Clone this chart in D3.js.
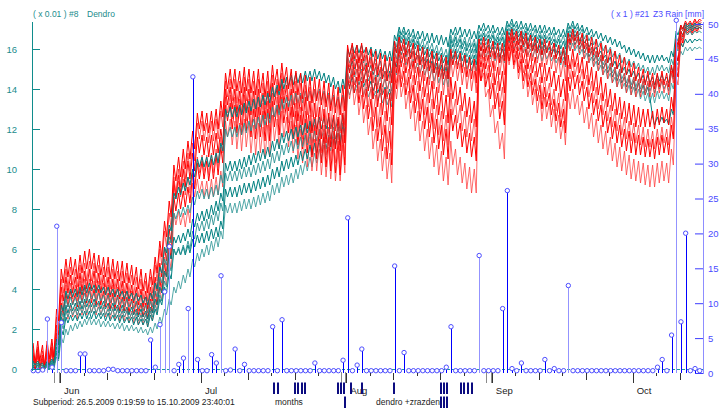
<!DOCTYPE html>
<html>
<head>
<meta charset="utf-8">
<script src="https://cdn.jsdelivr.net/npm/d3@7"></script>
<style>
body { margin: 0; background: #fff; }
svg { display: block; font-family: "Liberation Sans", Arial, sans-serif; }
</style>
</head>
<body>
<svg id="chart" width="719" height="408"></svg>
<script>
// dendrometer readings (x 0.01), two per day: morning max, afternoon min, from 26.5.2009
const red1 = [1.3,0.3, 1.4,0.4, 1.2,0.2, 1.4,0.5, 1.5,0.6, 3.0,2.4, 5.0,4.3, 5.5,4.6, 5.6,4.7, 5.5,4.5,
  5.7,4.8, 5.9,5.0, 6.0,5.0, 5.8,4.8, 5.7,4.7, 5.6,4.6, 5.6,4.5, 5.5,4.5, 5.4,4.4, 5.4,4.3,
  5.3,4.3, 5.2,4.2, 5.1,4.0, 5.0,3.9, 4.8,3.8, 5.0,4.2, 5.6,4.8, 6.4,5.6, 7.4,6.6, 8.4,7.6,
  10.2,9.4, 10.6,9.6, 11.0,10.0, 11.4,10.5, 11.9,11.0, 12.8,12.0, 12.9,11.9, 12.8,11.8, 12.9,11.9, 13.0,12.0,
  13.4,12.6, 14.8,14.0, 15.0,14.0, 15.0,13.9, 14.9,13.8, 15.1,13.9, 15.0,13.8, 14.9,13.7, 15.0,13.8, 14.8,13.6,
  14.9,13.6, 15.2,14.2, 15.0,13.9, 15.3,14.3, 15.1,14.0, 15.0,13.8, 14.9,13.7, 14.8,13.5, 14.7,13.4, 14.6,13.3,
  14.6,13.4, 14.5,13.2, 14.4,13.1, 14.3,12.9, 14.2,12.8, 14.1,12.7, 14.2,12.9, 16.2,15.6, 16.3,15.5, 16.2,15.3,
  16.3,15.4, 16.1,15.1, 16.0,14.9, 15.9,14.7, 15.8,14.5, 15.7,14.4, 15.6,14.3, 16.4,15.8, 16.6,15.9, 16.5,15.7,
  16.4,15.5, 16.3,15.3, 16.2,15.2, 16.1,15.0, 16.0,14.9, 15.9,14.8, 15.8,14.6, 15.7,14.5, 15.6,14.5, 16.0,15.2,
  15.9,15.0, 15.8,14.8, 15.7,14.6, 15.6,14.5, 15.5,14.3, 16.5,15.9, 16.6,15.8, 16.5,15.6, 16.4,15.5, 16.3,15.3,
  16.3,15.4, 16.9,16.4, 17.0,16.4, 16.9,16.2, 16.9,16.2, 16.8,16.0, 16.7,15.9, 16.6,15.8, 16.5,15.7, 16.5,15.8,
  16.4,15.6, 16.3,15.5, 16.2,15.3, 16.1,15.2, 16.8,16.3, 17.0,16.4, 16.9,16.2, 16.8,16.0, 16.7,15.8, 16.6,15.7,
  16.5,15.6, 16.3,15.4, 16.2,15.3, 16.0,15.1, 15.9,15.0, 15.7,14.8, 15.6,14.7, 15.4,14.6, 15.3,14.4, 15.1,14.3,
  15.0,14.2, 14.9,14.1, 14.8,14.0, 14.8,14.1, 14.9,14.2, 14.8,14.1, 15.2,14.6, 16.5,16.2, 17.2,17.0, 17.4,17.2,
  17.4,17.2, 17.5,17.3, 17.5,17.4];
const red2 = [1.0,0.1, 1.1,0.2, 0.9,0.1, 1.2,0.3, 1.3,0.5, 2.6,2.0, 4.5,3.8, 5.0,4.1, 5.1,4.2, 5.0,4.1,
  5.2,4.3, 5.3,4.4, 5.4,4.4, 5.3,4.3, 5.2,4.2, 5.1,4.1, 5.1,4.0, 5.0,4.0, 4.9,3.9, 4.9,3.8,
  4.8,3.8, 4.7,3.7, 4.6,3.6, 4.5,3.5, 4.4,3.4, 4.6,3.8, 5.2,4.4, 6.0,5.2, 6.9,6.1, 7.8,7.0,
  9.6,8.8, 10.0,9.1, 10.4,9.5, 10.8,9.9, 11.3,10.4, 12.3,11.5, 12.4,11.4, 12.3,11.3, 12.4,11.4, 12.5,11.5,
  12.9,12.1, 14.4,13.6, 14.5,13.4, 14.5,13.3, 14.4,13.2, 14.6,13.4, 14.5,13.2, 14.4,13.1, 14.5,13.2, 14.3,13.0,
  14.4,13.0, 14.7,13.6, 14.5,13.3, 14.8,13.7, 14.6,13.4, 14.5,13.2, 14.4,13.0, 14.3,12.9, 14.2,12.7, 14.1,12.6,
  14.0,12.6, 13.9,12.4, 13.8,12.2, 13.7,12.0, 13.6,11.9, 13.5,11.8, 13.6,12.1, 15.8,15.1, 16.0,15.1, 15.9,14.9,
  15.9,14.9, 15.7,14.6, 15.5,14.3, 15.3,14.0, 15.1,13.7, 14.9,13.5, 14.8,13.4, 16.0,15.3, 16.3,15.5, 16.2,15.3,
  16.0,15.0, 15.9,14.8, 15.7,14.6, 15.6,14.4, 15.4,14.2, 15.3,14.0, 15.1,13.8, 15.0,13.7, 14.9,13.6, 15.5,14.6,
  15.4,14.4, 15.3,14.2, 15.1,14.0, 15.0,13.9, 14.9,13.8, 16.2,15.5, 16.3,15.4, 16.1,15.1, 15.9,14.9, 15.8,14.7,
  15.7,14.7, 16.7,16.1, 16.8,16.1, 16.7,15.9, 16.6,15.8, 16.5,15.6, 16.3,15.4, 16.2,15.3, 16.0,15.1, 16.0,15.2,
  15.9,15.0, 15.7,14.8, 15.6,14.6, 15.4,14.4, 16.5,15.9, 16.7,16.0, 16.6,15.8, 16.4,15.5, 16.3,15.3, 16.1,15.1,
  15.9,14.9, 15.7,14.7, 15.5,14.5, 15.3,14.3, 15.1,14.1, 15.0,14.0, 14.8,13.8, 14.7,13.7, 14.6,13.6, 14.5,13.6,
  14.5,13.7, 14.4,13.6, 14.4,13.6, 14.5,13.8, 14.5,13.8, 14.4,13.7, 14.9,14.3, 16.3,16.0, 17.1,16.9, 17.3,17.1,
  17.3,17.1, 17.4,17.2, 17.4,17.3];
const red3 = [0.8,0.0, 1.0,0.1, 0.7,0.0, 1.0,0.2, 1.1,0.3, 2.2,1.7, 4.1,3.4, 4.6,3.8, 4.7,3.8, 4.6,3.7,
  4.8,3.9, 4.9,4.0, 5.0,4.0, 4.9,3.9, 4.8,3.8, 4.7,3.7, 4.6,3.6, 4.5,3.6, 4.5,3.5, 4.4,3.4,
  4.3,3.4, 4.2,3.3, 4.1,3.2, 4.0,3.1, 3.9,3.0, 4.1,3.4, 4.6,3.9, 5.3,4.6, 6.1,5.4, 7.0,6.3,
  9.4,8.6, 9.7,8.8, 10.0,9.1, 10.4,9.5, 10.8,9.9, 11.6,10.8, 11.7,10.7, 11.6,10.6, 11.7,10.7, 11.8,10.8,
  12.0,11.2, 14.0,13.2, 14.1,13.0, 14.0,12.8, 13.9,12.7, 14.1,12.9, 14.0,12.7, 13.9,12.6, 14.0,12.7, 13.8,12.5,
  13.9,12.5, 14.3,13.2, 14.1,12.8, 14.4,13.3, 14.2,12.9, 14.0,12.6, 13.9,12.4, 13.7,12.2, 13.6,12.0, 13.4,11.8,
  13.3,11.7, 13.1,11.5, 13.0,11.3, 12.8,11.1, 12.7,11.0, 12.6,10.9, 12.8,11.3, 15.5,14.8, 15.7,14.7, 15.5,14.4,
  15.5,14.3, 15.2,13.9, 14.9,13.5, 14.6,13.1, 14.3,12.7, 14.0,12.4, 13.8,12.2, 15.6,14.8, 16.0,15.1, 15.8,14.8,
  15.6,14.5, 15.4,14.2, 15.1,13.9, 14.9,13.6, 14.6,13.3, 14.4,13.0, 14.1,12.7, 13.9,12.5, 13.7,12.3, 14.6,13.5,
  14.4,13.2, 14.1,12.9, 13.8,12.6, 13.6,12.3, 13.4,12.1, 15.9,15.1, 16.0,15.0, 15.7,14.6, 15.4,14.2, 15.1,13.9,
  14.9,13.8, 16.5,15.9, 16.6,15.8, 16.4,15.5, 16.2,15.3, 16.0,15.0, 15.8,14.8, 15.6,14.6, 15.3,14.3, 15.3,14.4,
  15.1,14.1, 14.9,13.9, 14.7,13.6, 14.5,13.4, 15.7,15.0, 16.0,15.1, 15.8,14.8, 15.6,14.5, 15.4,14.2, 15.1,13.9,
  14.9,13.7, 14.6,13.4, 14.3,13.1, 14.0,12.9, 13.8,12.7, 13.6,12.5, 13.4,12.3, 13.3,12.2, 13.2,12.1, 13.1,12.1,
  13.0,12.1, 13.0,12.1, 12.9,12.0, 13.0,12.2, 13.1,12.3, 13.0,12.2, 13.6,12.9, 15.8,15.4, 16.9,16.6, 17.2,17.0,
  17.2,17.0, 17.3,17.1, 17.3,17.2];
const red4 = [0.7,0.0, 0.8,0.0, 0.6,0.0, 0.9,0.1, 1.0,0.3, 2.0,1.5, 3.7,3.0, 4.2,3.4, 4.3,3.5, 4.2,3.4,
  4.4,3.6, 4.5,3.6, 4.5,3.6, 4.4,3.5, 4.4,3.5, 4.3,3.4, 4.2,3.3, 4.2,3.3, 4.1,3.2, 4.0,3.2,
  3.9,3.1, 3.9,3.0, 3.8,2.9, 3.7,2.9, 3.6,2.8, 3.8,3.1, 4.2,3.5, 4.8,4.1, 5.6,4.9, 6.4,5.8,
  9.2,8.5, 9.4,8.6, 9.5,8.7, 9.6,8.8, 10.0,9.2, 10.6,9.8, 10.7,9.8, 10.7,9.7, 10.8,9.8, 11.0,10.0,
  11.6,10.8, 13.6,12.8, 13.7,12.5, 13.6,12.3, 13.5,12.2, 13.7,12.4, 13.5,12.1, 13.4,12.0, 13.5,12.1, 13.3,11.9,
  13.4,11.9, 13.8,12.6, 13.6,12.2, 14.0,12.8, 13.7,12.3, 13.5,12.0, 13.3,11.8, 13.1,11.5, 12.9,11.3, 12.7,11.1,
  12.6,11.0, 12.4,10.8, 12.2,10.6, 12.0,10.4, 11.9,10.3, 11.8,10.2, 12.0,10.6, 15.0,14.3, 15.2,14.2, 15.0,13.8,
  14.9,13.6, 14.5,13.1, 14.1,12.6, 13.7,12.1, 13.3,11.7, 12.9,11.3, 12.6,11.0, 15.1,14.3, 15.5,14.5, 15.3,14.2,
  15.0,13.8, 14.7,13.4, 14.4,13.0, 14.1,12.7, 13.8,12.3, 13.5,12.0, 13.2,11.7, 12.9,11.4, 12.7,11.2, 13.8,12.7,
  13.5,12.3, 13.2,11.9, 12.9,11.6, 12.7,11.4, 12.5,11.2, 15.5,14.7, 15.6,14.5, 15.2,14.0, 14.8,13.5, 14.4,13.1,
  14.1,12.9, 16.3,15.6, 16.4,15.5, 16.1,15.1, 15.8,14.8, 15.5,14.5, 15.2,14.2, 14.9,13.9, 14.6,13.5, 14.6,13.6,
  14.3,13.2, 14.0,12.9, 13.8,12.6, 13.5,12.3, 15.2,14.5, 15.5,14.6, 15.3,14.3, 15.0,14.0, 14.7,13.6, 14.4,13.3,
  14.1,13.0, 13.8,12.7, 13.5,12.4, 13.2,12.1, 13.0,11.9, 12.8,11.7, 12.6,11.5, 12.4,11.4, 12.3,11.3, 12.2,11.2,
  12.1,11.1, 12.0,11.1, 11.9,11.0, 12.0,11.2, 12.1,11.3, 12.0,11.2, 12.6,11.9, 15.3,14.9, 16.7,16.4, 17.1,16.9,
  17.1,16.9, 17.2,17.0, 17.2,17.1];
const red5 = [0.6,0.0, 0.7,0.0, 0.5,0.0, 0.8,0.1, 0.9,0.2, 1.8,1.3, 3.3,2.7, 3.8,3.1, 3.9,3.2, 3.8,3.1,
  4.0,3.3, 4.1,3.3, 4.1,3.3, 4.0,3.2, 4.0,3.2, 3.9,3.1, 3.8,3.0, 3.8,3.0, 3.7,2.9, 3.6,2.9,
  3.6,2.8, 3.5,2.7, 3.4,2.7, 3.3,2.6, 3.3,2.5, 3.5,2.8, 3.9,3.2, 4.5,3.8, 5.3,4.6, 6.2,5.5,
  8.6,7.9, 8.8,8.0, 8.9,8.1, 9.1,8.3, 9.8,9.0, 10.3,9.5, 10.4,9.5, 10.4,9.4, 10.5,9.5, 10.7,9.7,
  11.1,10.3, 13.2,12.4, 13.3,12.0, 13.2,11.8, 13.1,11.7, 13.3,11.9, 13.1,11.6, 13.0,11.5, 13.1,11.6, 12.9,11.4,
  13.0,11.4, 13.4,12.1, 13.2,11.7, 13.6,12.3, 13.3,11.8, 13.1,11.5, 12.9,11.2, 12.7,11.0, 12.5,10.8, 12.3,10.6,
  12.2,10.5, 12.0,10.3, 11.8,10.1, 11.6,9.9, 11.5,9.8, 11.4,9.7, 11.7,10.2, 14.7,14.0, 14.9,13.8, 14.6,13.3,
  14.4,13.0, 14.0,12.5, 13.5,11.9, 13.1,11.4, 12.6,10.9, 12.2,10.5, 11.9,10.2, 14.8,14.0, 15.2,14.1, 14.9,13.7,
  14.6,13.3, 14.2,12.8, 13.8,12.4, 13.5,12.0, 13.1,11.6, 12.8,11.3, 12.5,11.0, 12.2,10.7, 12.0,10.5, 13.0,11.9,
  12.7,11.5, 12.3,11.1, 12.0,10.8, 11.8,10.6, 11.6,10.4, 15.2,14.4, 15.3,14.1, 14.8,13.5, 14.3,13.0, 13.8,12.5,
  13.4,12.2, 16.1,15.4, 16.2,15.2, 15.9,14.8, 15.5,14.4, 15.2,14.1, 14.8,13.7, 14.5,13.4, 14.2,13.0, 14.1,13.1,
  13.8,12.7, 13.5,12.4, 13.3,12.1, 13.0,11.8, 14.6,13.9, 14.9,14.0, 14.7,13.7, 14.4,13.4, 14.1,13.0, 13.8,12.7,
  13.5,12.4, 13.2,12.1, 12.9,11.8, 12.6,11.5, 12.4,11.3, 12.2,11.1, 12.0,10.9, 11.9,10.8, 11.8,10.7, 11.7,10.7,
  11.6,10.6, 11.5,10.6, 11.5,10.5, 11.6,10.7, 11.7,10.8, 11.6,10.7, 12.2,11.5, 15.0,14.6, 16.6,16.3, 17.0,16.8,
  17.0,16.8, 17.1,16.9, 17.1,17.0];
const red6 = [0.5,0.0, 0.6,0.0, 0.4,0.0, 0.7,0.1, 0.8,0.2, 1.6,1.2, 2.8,2.3, 3.1,2.5, 3.2,2.6, 3.1,2.5,
  3.3,2.7, 3.4,2.7, 3.4,2.8, 3.3,2.7, 3.3,2.7, 3.2,2.6, 3.2,2.5, 3.1,2.5, 3.1,2.4, 3.0,2.4,
  3.0,2.3, 2.9,2.3, 2.9,2.2, 2.8,2.2, 2.8,2.1, 3.0,2.4, 3.4,2.8, 4.0,3.4, 4.8,4.2, 5.6,5.0,
  7.8,7.2, 7.9,7.2, 7.8,7.1, 8.0,7.3, 9.3,8.6, 9.5,8.8, 9.4,8.6, 9.4,8.5, 9.5,8.6, 9.6,8.7,
  9.9,9.1, 12.4,11.6, 12.5,11.2, 12.4,11.0, 12.3,10.9, 12.5,11.1, 12.3,10.8, 12.2,10.7, 12.3,10.8, 12.1,10.6,
  12.2,10.6, 12.7,11.4, 12.5,11.0, 12.9,11.6, 12.6,11.1, 12.4,10.8, 12.2,10.5, 12.0,10.3, 11.8,10.1, 11.6,9.9,
  11.5,9.9, 11.3,9.7, 11.2,9.6, 11.1,9.5, 11.0,9.4, 10.9,9.4, 11.2,9.8, 14.2,13.5, 14.4,13.2, 14.0,12.7,
  13.7,12.3, 13.2,11.7, 12.6,11.0, 12.0,10.4, 11.5,9.9, 11.1,9.5, 10.8,9.3, 14.3,13.5, 14.7,13.6, 14.3,13.0,
  13.9,12.5, 13.4,11.9, 12.9,11.4, 12.4,10.9, 12.0,10.5, 11.6,10.1, 11.2,9.7, 10.9,9.4, 10.6,9.2, 11.4,10.2,
  11.0,9.7, 10.6,9.3, 10.3,9.0, 10.1,8.8, 10.0,8.8, 15.0,14.4, 14.8,13.6, 14.0,12.6, 13.2,11.8, 12.4,11.0,
  11.8,10.5, 15.9,15.2, 16.0,15.0, 15.6,14.5, 15.2,14.0, 14.8,13.6, 14.4,13.2, 14.0,12.8, 13.7,12.4, 13.6,12.5,
  13.3,12.1, 13.0,11.8, 12.7,11.5, 12.4,11.2, 13.8,13.0, 14.0,13.0, 13.7,12.7, 13.4,12.3, 13.1,12.0, 12.8,11.6,
  12.5,11.3, 12.2,11.0, 11.9,10.7, 11.6,10.4, 11.3,10.1, 11.1,9.9, 10.9,9.7, 10.7,9.5, 10.5,9.4, 10.4,9.3,
  10.3,9.2, 10.2,9.1, 10.2,9.1, 10.3,9.3, 10.4,9.4, 10.3,9.3, 11.0,10.2, 14.6,14.2, 16.4,16.1, 16.9,16.7,
  16.9,16.7, 17.0,16.8, 17.1,17.0];
const teal1 = [0.4,0.2, 0.4,0.2, 0.3,0.1, 0.4,0.2, 0.5,0.3, 1.5,1.2, 3.2,2.9, 3.9,3.5, 4.0,3.6, 4.0,3.6,
  4.1,3.7, 4.2,3.8, 4.3,3.9, 4.2,3.8, 4.2,3.8, 4.1,3.7, 4.1,3.7, 4.0,3.6, 4.0,3.6, 3.9,3.5,
  3.9,3.5, 3.8,3.4, 3.8,3.4, 3.7,3.3, 3.6,3.2, 3.8,3.5, 4.3,4.0, 5.1,4.8, 6.1,5.8, 7.2,6.9,
  8.8,8.5, 9.1,8.7, 9.3,8.9, 9.6,9.2, 10.0,9.6, 10.5,10.1, 10.6,10.1, 10.6,10.1, 10.7,10.2, 10.8,10.3,
  11.3,10.9, 13.0,12.6, 13.1,12.6, 13.1,12.6, 13.2,12.7, 13.3,12.8, 13.4,12.9, 13.5,13.0, 13.6,13.1, 13.7,13.2,
  13.8,13.3, 14.1,13.6, 14.2,13.7, 14.5,14.0, 14.6,14.1, 14.7,14.2, 14.8,14.3, 14.8,14.3, 14.9,14.4, 14.9,14.4,
  15.0,14.5, 14.9,14.4, 14.8,14.3, 14.7,14.1, 14.6,14.0, 14.4,13.8, 14.5,14.0, 16.0,15.7, 16.2,15.8, 16.2,15.8,
  16.2,15.8, 16.1,15.7, 16.1,15.6, 16.0,15.5, 16.0,15.5, 15.9,15.4, 15.9,15.4, 16.7,16.4, 17.1,16.7, 17.1,16.7,
  17.0,16.6, 17.0,16.5, 16.9,16.5, 16.9,16.4, 16.8,16.3, 16.8,16.3, 16.7,16.2, 16.7,16.2, 16.6,16.1, 17.0,16.7,
  17.1,16.7, 17.1,16.6, 17.0,16.6, 17.0,16.5, 16.9,16.5, 17.2,16.9, 17.3,16.9, 17.2,16.8, 17.2,16.8, 17.1,16.7,
  17.1,16.7, 17.4,17.1, 17.5,17.1, 17.4,17.0, 17.4,17.0, 17.3,16.9, 17.3,16.9, 17.2,16.8, 17.2,16.8, 17.2,16.8,
  17.1,16.7, 17.1,16.7, 17.0,16.6, 17.0,16.6, 17.3,17.0, 17.4,17.0, 17.3,16.9, 17.2,16.8, 17.1,16.7, 17.0,16.6,
  16.9,16.5, 16.8,16.4, 16.7,16.3, 16.6,16.2, 16.5,16.1, 16.4,16.0, 16.2,15.8, 16.1,15.7, 16.0,15.6, 15.9,15.5,
  15.8,15.4, 15.7,15.3, 15.7,15.3, 15.7,15.4, 15.7,15.4, 15.6,15.3, 15.9,15.6, 16.9,16.7, 17.2,17.0, 17.3,17.1,
  17.3,17.1, 17.3,17.2, 17.3,17.2];
const teal2 = [0.3,0.1, 0.3,0.1, 0.2,0.0, 0.3,0.1, 0.4,0.2, 1.3,1.0, 2.9,2.6, 3.5,3.1, 3.6,3.2, 3.6,3.2,
  3.7,3.3, 3.8,3.4, 3.9,3.5, 3.8,3.4, 3.8,3.4, 3.7,3.3, 3.7,3.3, 3.6,3.2, 3.6,3.2, 3.5,3.1,
  3.5,3.1, 3.4,3.0, 3.4,3.0, 3.3,2.9, 3.2,2.8, 3.4,3.1, 3.9,3.6, 4.6,4.3, 5.5,5.2, 6.6,6.3,
  7.8,7.5, 8.0,7.6, 8.1,7.7, 8.2,7.8, 8.6,8.2, 8.9,8.5, 9.0,8.5, 9.0,8.5, 9.1,8.6, 9.2,8.7,
  9.7,9.3, 12.0,11.6, 12.1,11.6, 12.1,11.6, 12.2,11.7, 12.3,11.8, 12.4,11.9, 12.5,12.0, 12.6,12.1, 12.7,12.2,
  12.8,12.3, 13.1,12.6, 13.2,12.7, 13.5,13.0, 13.6,13.1, 13.7,13.2, 13.8,13.3, 13.8,13.3, 13.9,13.4, 13.9,13.4,
  14.0,13.5, 14.0,13.4, 13.9,13.3, 13.8,13.2, 13.7,13.1, 13.6,13.0, 13.7,13.2, 15.6,15.3, 15.8,15.4, 15.8,15.4,
  15.8,15.3, 15.7,15.2, 15.6,15.1, 15.5,15.0, 15.4,14.9, 15.3,14.8, 15.3,14.8, 16.4,16.1, 16.9,16.5, 16.9,16.4,
  16.8,16.3, 16.7,16.2, 16.6,16.1, 16.5,16.0, 16.4,15.9, 16.3,15.8, 16.2,15.7, 16.1,15.6, 16.0,15.5, 16.7,16.3,
  16.8,16.3, 16.7,16.2, 16.6,16.1, 16.6,16.1, 16.5,16.0, 16.9,16.6, 17.0,16.6, 16.9,16.5, 16.9,16.4, 16.8,16.4,
  16.8,16.3, 17.2,16.9, 17.3,16.9, 17.2,16.8, 17.1,16.7, 17.1,16.7, 17.0,16.6, 17.0,16.5, 16.9,16.5, 16.9,16.5,
  16.8,16.4, 16.8,16.3, 16.7,16.3, 16.7,16.2, 17.1,16.8, 17.2,16.8, 17.1,16.7, 17.0,16.5, 16.8,16.4, 16.7,16.2,
  16.5,16.1, 16.4,15.9, 16.2,15.8, 16.1,15.6, 15.9,15.5, 15.8,15.3, 15.6,15.2, 15.5,15.1, 15.4,15.0, 15.3,14.9,
  15.2,14.8, 15.1,14.7, 15.1,14.7, 15.2,14.9, 15.2,14.9, 15.1,14.8, 15.5,15.2, 16.6,16.4, 17.1,16.9, 17.2,17.0,
  17.2,17.0, 17.2,17.1, 17.2,17.1];
const teal3 = [0.2,0.0, 0.3,0.1, 0.2,0.0, 0.3,0.1, 0.4,0.2, 1.1,0.8, 2.6,2.3, 3.2,2.8, 3.3,2.9, 3.3,2.9,
  3.4,3.0, 3.5,3.1, 3.5,3.1, 3.5,3.1, 3.4,3.0, 3.4,3.0, 3.3,2.9, 3.3,2.9, 3.2,2.8, 3.2,2.8,
  3.1,2.7, 3.1,2.7, 3.0,2.6, 3.0,2.6, 2.9,2.5, 3.1,2.8, 3.5,3.2, 4.1,3.8, 4.9,4.6, 5.8,5.5,
  6.6,6.3, 6.7,6.3, 6.8,6.4, 7.0,6.6, 7.5,7.1, 7.8,7.4, 7.9,7.4, 8.0,7.5, 8.2,7.7, 8.4,7.9,
  8.8,8.4, 10.3,9.9, 10.4,9.9, 10.4,9.9, 10.5,10.0, 10.6,10.1, 10.7,10.2, 10.8,10.3, 10.9,10.4, 11.0,10.5,
  11.1,10.6, 11.4,10.9, 11.5,11.0, 11.8,11.3, 11.9,11.4, 12.0,11.5, 12.1,11.6, 12.2,11.7, 12.3,11.8, 12.4,11.9,
  12.5,12.0, 12.6,12.0, 12.6,12.0, 12.6,12.0, 12.6,12.0, 12.5,11.9, 12.7,12.2, 15.2,14.9, 15.4,15.0, 15.4,15.0,
  15.4,14.9, 15.3,14.8, 15.2,14.7, 15.1,14.6, 15.0,14.5, 14.9,14.4, 14.9,14.4, 16.1,15.8, 16.7,16.3, 16.7,16.2,
  16.6,16.1, 16.5,16.0, 16.4,15.9, 16.2,15.7, 16.1,15.6, 16.0,15.5, 15.9,15.4, 15.8,15.3, 15.7,15.2, 16.5,16.1,
  16.6,16.1, 16.5,16.0, 16.4,15.9, 16.3,15.8, 16.3,15.8, 16.7,16.4, 16.8,16.4, 16.7,16.3, 16.7,16.2, 16.6,16.2,
  16.6,16.1, 17.0,16.7, 17.1,16.7, 17.0,16.6, 16.9,16.5, 16.9,16.4, 16.8,16.4, 16.7,16.3, 16.7,16.2, 16.7,16.3,
  16.6,16.2, 16.5,16.1, 16.5,16.0, 16.4,16.0, 16.9,16.6, 17.0,16.6, 16.9,16.4, 16.7,16.3, 16.5,16.1, 16.3,15.9,
  16.1,15.7, 15.9,15.5, 15.7,15.3, 15.6,15.1, 15.4,15.0, 15.3,14.8, 15.1,14.7, 15.0,14.6, 14.9,14.5, 14.8,14.4,
  14.7,14.3, 14.7,14.3, 14.6,14.2, 14.7,14.4, 14.7,14.4, 14.6,14.3, 15.1,14.8, 16.3,16.1, 16.9,16.7, 17.1,16.9,
  17.1,16.9, 17.1,17.0, 17.1,17.0];
const teal4 = [0.2,0.0, 0.2,0.0, 0.1,0.0, 0.2,0.0, 0.3,0.1, 0.9,0.6, 2.3,2.0, 2.9,2.6, 3.0,2.7, 3.0,2.7,
  3.1,2.8, 3.2,2.8, 3.2,2.8, 3.2,2.8, 3.1,2.7, 3.1,2.7, 3.0,2.7, 3.0,2.6, 3.0,2.6, 2.9,2.6,
  2.9,2.5, 2.8,2.5, 2.8,2.4, 2.7,2.4, 2.7,2.3, 2.9,2.6, 3.2,2.9, 3.7,3.4, 4.4,4.1, 5.2,4.9,
  6.0,5.7, 6.1,5.7, 6.2,5.8, 6.4,6.0, 6.9,6.5, 7.3,6.9, 7.4,6.9, 7.5,7.0, 7.7,7.2, 7.9,7.4,
  8.3,7.9, 9.8,9.4, 9.9,9.4, 9.9,9.4, 10.0,9.5, 10.1,9.6, 10.1,9.6, 10.2,9.7, 10.3,9.8, 10.4,9.9,
  10.5,10.0, 10.8,10.3, 10.9,10.4, 11.2,10.7, 11.3,10.8, 11.4,10.9, 11.5,11.0, 11.6,11.1, 11.7,11.2, 11.8,11.3,
  11.9,11.4, 12.0,11.5, 12.0,11.5, 12.1,11.5, 12.1,11.5, 12.1,11.5, 12.3,11.8, 14.8,14.5, 15.0,14.6, 15.0,14.6,
  15.0,14.5, 14.9,14.4, 14.8,14.3, 14.7,14.2, 14.6,14.1, 14.5,14.0, 14.4,13.9, 15.8,15.5, 16.4,16.0, 16.4,15.9,
  16.3,15.8, 16.2,15.7, 16.0,15.5, 15.9,15.4, 15.8,15.3, 15.7,15.1, 15.6,15.0, 15.5,14.9, 15.4,14.8, 16.2,15.8,
  16.3,15.8, 16.2,15.7, 16.1,15.6, 16.0,15.5, 16.0,15.5, 16.5,16.2, 16.6,16.2, 16.5,16.0, 16.4,16.0, 16.4,15.9,
  16.3,15.9, 16.8,16.5, 16.9,16.5, 16.8,16.4, 16.7,16.3, 16.6,16.2, 16.6,16.1, 16.5,16.0, 16.4,16.0, 16.4,16.0,
  16.3,15.9, 16.3,15.8, 16.2,15.7, 16.1,15.7, 16.7,16.4, 16.8,16.4, 16.7,16.2, 16.5,16.0, 16.3,15.8, 16.1,15.6,
  15.9,15.4, 15.7,15.2, 15.5,15.0, 15.3,14.8, 15.1,14.6, 15.0,14.5, 14.8,14.3, 14.7,14.2, 14.6,14.1, 14.5,14.0,
  14.4,13.9, 14.3,13.9, 14.3,13.8, 14.4,14.0, 14.4,14.0, 14.3,13.9, 14.8,14.5, 16.1,15.9, 16.7,16.5, 16.9,16.7,
  16.9,16.7, 16.9,16.8, 16.9,16.8];
const teal5 = [0.1,0.0, 0.2,0.0, 0.1,0.0, 0.2,0.0, 0.3,0.1, 0.8,0.5, 2.0,1.7, 2.6,2.3, 2.7,2.4, 2.7,2.4,
  2.8,2.5, 2.9,2.5, 2.9,2.5, 2.9,2.5, 2.8,2.5, 2.8,2.4, 2.8,2.4, 2.7,2.4, 2.7,2.3, 2.7,2.3,
  2.6,2.3, 2.6,2.2, 2.6,2.2, 2.5,2.2, 2.5,2.1, 2.7,2.4, 3.0,2.7, 3.5,3.2, 4.1,3.8, 4.8,4.5,
  6.0,5.7, 6.0,5.7, 6.1,5.7, 6.2,5.8, 6.5,6.1, 6.7,6.3, 6.8,6.3, 6.9,6.4, 7.0,6.5, 7.1,6.6,
  7.4,7.0, 9.0,8.6, 9.1,8.6, 9.1,8.6, 9.2,8.7, 9.3,8.8, 9.3,8.8, 9.4,8.9, 9.5,9.0, 9.6,9.1,
  9.7,9.2, 10.0,9.5, 10.1,9.6, 10.4,9.9, 10.5,10.0, 10.6,10.1, 10.7,10.2, 10.9,10.4, 11.0,10.5, 11.2,10.7,
  11.3,10.8, 11.5,10.9, 11.6,11.0, 11.7,11.1, 11.8,11.2, 11.8,11.2, 12.1,11.6, 14.4,14.1, 14.6,14.2, 14.6,14.2,
  14.6,14.1, 14.5,14.0, 14.4,13.9, 14.3,13.8, 14.2,13.7, 14.1,13.6, 14.0,13.5, 15.4,15.1, 16.1,15.7, 16.1,15.6,
  16.0,15.5, 15.9,15.4, 15.7,15.2, 15.6,15.1, 15.5,14.9, 15.4,14.8, 15.3,14.7, 15.2,14.6, 15.1,14.5, 15.9,15.5,
  16.0,15.5, 15.9,15.4, 15.8,15.3, 15.7,15.2, 15.7,15.2, 16.2,15.9, 16.3,15.9, 16.2,15.8, 16.1,15.7, 16.1,15.6,
  16.0,15.6, 16.6,16.3, 16.7,16.3, 16.6,16.2, 16.5,16.1, 16.4,16.0, 16.3,15.9, 16.3,15.8, 16.2,15.7, 16.2,15.8,
  16.1,15.7, 16.0,15.6, 15.9,15.5, 15.9,15.4, 16.5,16.2, 16.6,16.2, 16.5,16.0, 16.3,15.8, 16.1,15.6, 15.9,15.4,
  15.7,15.2, 15.5,15.0, 15.3,14.8, 15.1,14.6, 14.9,14.4, 14.8,14.3, 14.6,14.1, 14.5,14.0, 14.4,13.9, 14.3,13.8,
  14.2,13.7, 14.1,13.6, 12.6,12.2, 12.6,12.3, 12.6,12.3, 12.5,12.2, 13.0,12.7, 15.6,15.4, 16.3,16.1, 16.5,16.3,
  16.5,16.3, 16.5,16.4, 16.5,16.4];
const teal6 = [0.1,0.0, 0.1,0.0, 0.1,0.0, 0.1,0.0, 0.2,0.0, 0.6,0.4, 1.6,1.3, 2.0,1.7, 2.2,1.9, 2.3,2.0,
  2.4,2.1, 2.5,2.2, 2.6,2.2, 2.5,2.2, 2.5,2.1, 2.4,2.1, 2.4,2.1, 2.3,2.0, 2.3,2.0, 2.3,1.9,
  2.2,1.9, 2.2,1.9, 2.1,1.8, 2.1,1.8, 2.0,1.7, 2.1,1.8, 2.3,2.0, 2.6,2.3, 3.0,2.7, 3.5,3.2,
  4.1,3.8, 4.4,4.0, 4.7,4.3, 5.0,4.6, 5.5,5.1, 5.8,5.4, 6.0,5.6, 6.2,5.7, 6.4,5.9, 6.6,6.1,
  6.9,6.5, 8.2,7.8, 8.3,7.8, 8.3,7.8, 8.4,7.9, 8.5,8.0, 8.5,8.0, 8.6,8.1, 8.7,8.2, 8.8,8.3,
  8.9,8.4, 9.2,8.7, 9.3,8.8, 9.6,9.1, 9.7,9.2, 9.8,9.3, 10.0,9.5, 10.2,9.7, 10.4,9.9, 10.6,10.1,
  10.8,10.3, 11.0,10.5, 11.2,10.7, 11.4,10.9, 11.6,11.1, 11.8,11.3, 12.2,11.8, 14.0,13.7, 14.2,13.8, 14.2,13.8,
  14.2,13.7, 14.1,13.6, 14.0,13.5, 13.9,13.4, 13.8,13.3, 13.7,13.2, 13.6,13.1, 15.0,14.7, 15.7,15.3, 15.7,15.2,
  15.6,15.1, 15.5,15.0, 15.3,14.8, 15.2,14.7, 15.1,14.5, 15.0,14.4, 14.9,14.3, 14.8,14.2, 14.7,14.1, 15.6,15.2,
  15.7,15.2, 15.6,15.1, 15.5,15.0, 15.4,14.9, 15.4,14.9, 15.9,15.6, 16.0,15.6, 15.9,15.5, 15.8,15.4, 15.8,15.3,
  15.7,15.3, 16.3,16.0, 16.4,16.0, 16.3,15.9, 16.2,15.8, 16.1,15.7, 16.0,15.6, 16.0,15.5, 15.9,15.4, 15.9,15.5,
  15.8,15.4, 15.7,15.3, 15.6,15.2, 15.6,15.1, 16.2,15.9, 16.3,15.9, 16.2,15.7, 16.0,15.5, 15.8,15.3, 15.6,15.1,
  15.4,14.9, 15.2,14.7, 15.0,14.5, 14.8,14.3, 14.6,14.1, 14.5,14.0, 14.3,13.8, 14.2,13.7, 14.1,13.6, 14.0,13.5,
  13.9,13.4, 13.8,13.3, 13.8,13.3, 13.9,13.5, 13.9,13.5, 13.8,13.4, 14.3,14.0, 15.4,15.2, 15.9,15.7, 16.1,15.9,
  16.1,15.9, 16.1,16.0, 16.1,16.0];

// daily rain [mm], one value per day from 26.5.2009
const rain = [0,0,0.1,7.4,0.5,20.7,6.9,0,0,0,
  2.4,2.4,0,0,0,0,0.2,0.2,0,0,
  0,0,0,0,0,4.4,0.5,6.6,11.3,17.8,
  0,0.9,1.8,8.9,42.1,1.6,0,0,2.3,1.1,
  13.6,0,0.1,3.1,0,0.9,0,0,0,0,
  0,6.3,0,7.3,0,0,0,0,0,0,
  1.1,0,0,0,0,0,1.5,21.9,0,0.8,
  3.1,0,0,0,0,0,0,15.0,0,2.6,
  0,0,0,0,0,0,0,0,0.5,6.3,
  0,0,0,0,0,16.5,0,0,0,0,
  8.9,25.8,0.3,0,1.1,0,0,0,0,1.6,
  0,0.3,0,0,12.2,0,0,0,0,0,
  0,0,0,0,0,0,0,0,0,0,
  0,0,0,0.5,1.6,0,5.1,50.2,7.0,19.7,
  0,0.3,0];
// days whose stems are drawn pale
const rainPale = [3,5,6,27,28,29,33,40,95,114,137];

const leftTicks = [0,2,4,6,8,10,12,14,16];
const rightTicks = [0,5,10,15,20,25,30,35,40,45,50];
const monthNames = ['Jun','Jul','Aug','Sep','Oct'];
// day offsets of the marker bars under the axis
const barsTop = [51.6,52.5,56.1,56.8,57.5,58.2,65.2,65.8,66.5,68.0,70.3,77.2,87.1,87.8,88.5,91.4,92.2,93.0,93.7];
const barsBottom = [66.7,87.1,87.8,88.5];

const START = new Date(2009, 4, 26, 0, 19, 59);
const END = new Date(2009, 9, 15, 23, 40, 1);

const svg = d3.select('#chart');
svg.append('rect').attr('width', 719).attr('height', 408).attr('fill', '#fff');

const x = d3.scaleTime().domain([START, END]).range([32, 703]);
const yL = d3.scaleLinear().domain([0, 16]).range([369, 49]);
const yR = d3.scaleLinear().domain([0, 50]).range([373, 24]);

const dayAt = (d, h) => new Date(2009, 4, 26 + Math.floor(d), h + (d % 1) * 24);

function toPoints(vals) {
    return vals.map((v, k) => ({ t: new Date(2009, 4, 26 + Math.floor(k / 2), k % 2 ? 16 : 6), v: v }));
}

svg.append('defs').append('clipPath').attr('id', 'plot')
    .append('rect').attr('x', 32).attr('y', 0).attr('width', 672).attr('height', 372);

// dashed zero line of the dendro axis
svg.append('line')
    .attr('x1', 32).attr('x2', 703)
    .attr('y1', yL(0) + 0.5).attr('y2', yL(0) + 0.5)
    .attr('stroke', '#1a9a9a').attr('stroke-dasharray', '3,2')

const line = d3.line().x(d => x(d.t)).y(d => yL(d.v));

const dendro = [
    [teal6, '#3f9f9f', 0.9], [red6, '#ff3a3a', 0.75],
    [teal5, '#008080', 1], [red5, '#ff0000', 1],
    [teal4, '#2a9393', 0.9], [red4, '#ff3a3a', 0.8],
    [teal3, '#008080', 1], [red3, '#ff0000', 1],
    [teal2, '#2a9393', 0.9], [red2, '#ff2a2a', 0.8],
    [teal1, '#007f7f', 1], [red1, '#ff0000', 1]
];

const lines = svg.append('g').attr('clip-path', 'url(#plot)');
dendro.forEach(([vals, color, op]) => {
    lines.append('path')
        .datum(toPoints(vals))
        .attr('d', line)
        .attr('fill', 'none')
        .attr('stroke', color)
        .attr('stroke-opacity', op)
        .attr('stroke-width', 1)
});

// rain stems and markers
const rainData = rain.map((v, i) => ({ t: dayAt(i, 7), v: v, pale: rainPale.includes(i) }));

svg.append('g').selectAll('line')
    .data(rainData.filter(d => d.v > 0.2))
    .join('line')
        .attr('x1', d => Math.round(x(d.t)) + 0.5)
        .attr('x2', d => Math.round(x(d.t)) + 0.5)
        .attr('y1', yR(0))
        .attr('y2', d => yR(d.v) - 2)
        .attr('stroke', d => d.pale ? '#9393ff' : '#0000ff')

svg.append('g').selectAll('circle')
    .data(rainData)
    .join('circle')
        .attr('cx', d => x(d.t))
        .attr('cy', d => yR(d.v) - 2.3)
        .attr('r', 2.2)
        .attr('fill', '#fff')
        .attr('stroke', '#4d4dff')
        .attr('stroke-width', 1)

// left axis
svg.append('line')
    .attr('x1', 32.5).attr('x2', 32.5).attr('y1', 22).attr('y2', 371)
    .attr('stroke', '#108c8c')

const axL = svg.append('g')
    .attr('transform', 'translate(32,0)')
    .call(d3.axisLeft(yL).tickValues(leftTicks).tickSize(-8).tickPadding(15).tickFormat(d3.format('d')))
axL.select('.domain').remove()
axL.selectAll('line').attr('stroke', '#108c8c')
axL.selectAll('text')
    .attr('fill', '#1a8c8c')
    .attr('font-family', '"Liberation Sans", Arial, sans-serif')
    .attr('font-size', 9.5)

// right axis
svg.append('line')
    .attr('x1', 703.5).attr('x2', 703.5).attr('y1', 22).attr('y2', 374)
    .attr('stroke', '#8d8dff')

const axR = svg.append('g')
    .attr('transform', 'translate(703,0)')
    .call(d3.axisRight(yR).tickValues(rightTicks).tickSize(-8).tickPadding(5))
axR.select('.domain').remove()
axR.selectAll('line').attr('stroke', '#3c3cff')
axR.selectAll('text')
    .attr('fill', '#4b4bff')
    .attr('font-family', '"Liberation Sans", Arial, sans-serif')
    .attr('font-size', 9.5)

// time ticks on 1st, 6th, 11th, 16th, 21st, 26th
const tickDays = d3.timeDay.range(new Date(2009, 4, 27), new Date(2009, 9, 16))
    .filter(d => d.getDate() % 5 === 1 && d.getDate() < 31);
const tickLen = d => d.getDate() === 1 ? 10 : (d.getDate() % 10 === 1 ? 7 : 3);

svg.append('g').selectAll('line')
    .data(tickDays)
    .join('line')
        .attr('x1', d => Math.round(x(d)) + 0.5)
        .attr('x2', d => Math.round(x(d)) + 0.5)
        .attr('y1', 373)
        .attr('y2', d => 373 + tickLen(d))
        .attr('stroke', '#333')

const grayTicks = [new Date(2009, 4, 31), new Date(2009, 5, 1), new Date(2009, 6, 31),
    new Date(2009, 7, 1), new Date(2009, 7, 31), new Date(2009, 8, 1)];
svg.append('g').selectAll('line')
    .data(grayTicks)
    .join('line')
        .attr('x1', d => Math.round(x(d)) - 0.5)
        .attr('x2', d => Math.round(x(d)) - 0.5)
        .attr('y1', 372)
        .attr('y2', 383)
        .attr('stroke', '#8a8a8a')

svg.append('g').selectAll('text')
    .data(monthNames)
    .join('text')
        .attr('x', (d, i) => x(new Date(2009, 5 + i, 1)) + 4)
        .attr('y', 393.5)
        .attr('font-size', 9.5)
        .attr('fill', '#222')
        .text(d => d)

// marker bars
const bars = svg.append('g').attr('fill', '#0c0c80');
bars.selectAll('rect.top')
    .data(barsTop)
    .join('rect')
        .attr('class', 'top')
        .attr('x', d => Math.round(x(dayAt(d, 0))) - 1)
        .attr('y', 382.5).attr('width', 2).attr('height', 11.5)
bars.selectAll('rect.bottom')
    .data(barsBottom)
    .join('rect')
        .attr('class', 'bottom')
        .attr('x', d => Math.round(x(dayAt(d, 0))) - 1)
        .attr('y', 396.5).attr('width', 2).attr('height', 12)

// texts
const txt = (tx, ty, s, color, size, anchor) => svg.append('text')
    .attr('x', tx).attr('y', ty).attr('fill', color).attr('font-size', size)
    .attr('text-anchor', anchor || 'start').text(s);

txt(33, 17, '( x 0.01 ) #8', '#1a8c8c', 8.5);
txt(87, 17, 'Dendro', '#1a8c8c', 8.5);
txt(611, 17, '( x 1 ) #21', '#4b4bff', 8.5);
txt(704, 17, 'Z3 Rain [mm]', '#4b4bff', 8.5, 'end');
txt(33, 404.5, 'Subperiod: 26.5.2009 0:19:59 to 15.10.2009 23:40:01', '#222', 8.5);
txt(275, 405, 'months', '#222', 8.5);
txt(376, 405, 'dendro +zrazden', '#222', 8.5);
</script>
</body>
</html>
